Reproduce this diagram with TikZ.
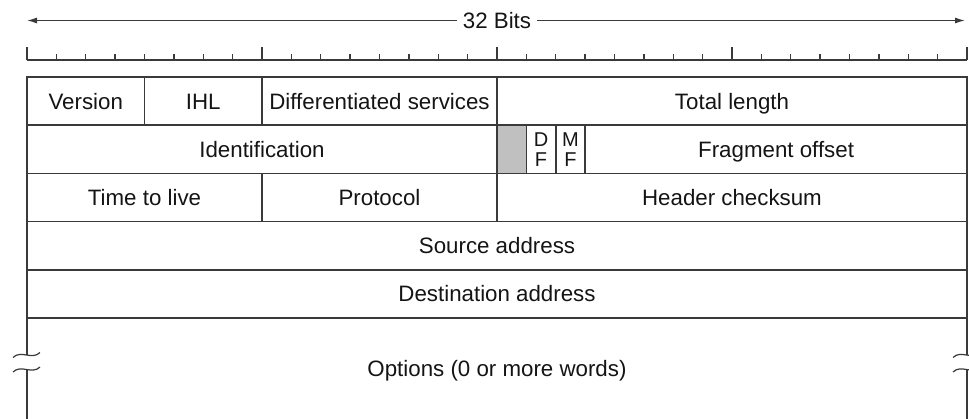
\documentclass[tikz,border=0pt]{standalone}
\usepackage{fontspec}
\setmainfont{Liberation Sans}
\usetikzlibrary{arrows.meta}
\definecolor{linec}{HTML}{3A3A3A}
\definecolor{textc}{HTML}{141414}
\definecolor{cellgray}{HTML}{C0C0C0}
\tikzset{
  cell/.style={draw=linec, line width=1.5pt, rectangle, inner sep=0pt, outer sep=0pt,
    text=textc, font=\fontsize{22.3}{26}\selectfont, text height=16pt, text depth=0pt},
  smallcell/.style={draw=linec, line width=1.5pt, rectangle, inner sep=0pt, outer sep=0pt,
    text=textc, font=\fontsize{20}{20}\selectfont, align=center},
  lbl/.style={text=textc, font=\fontsize{22.3}{26}\selectfont, text height=16pt, text depth=0pt, inner sep=0pt},
  rule/.style={draw=linec, line width=1.5pt},
  tick/.style={draw=linec, line width=1.3pt},
  brk/.style={draw=linec, line width=1.5pt},
  widearrow/.style={draw=linec, line width=1.2pt, -{Latex[length=10pt,width=6pt]}}
}
\begin{document}
\begin{tikzpicture}[x=1pt,y=-1pt]
\useasboundingbox (0,0) rectangle (969,418);
\clip (0,0) rectangle (969,418);

% title arrow
\node[lbl, inner xsep=6pt] (bits) at (497,20.5) {32 Bits};
\coordinate (arrL) at (27,20.5);
\coordinate (arrR) at (965,20.5);
\draw[widearrow] (bits.west) -- (arrL);
\draw[widearrow] (bits.east) -- (arrR);

% ruler
\draw[rule] (27,60) -- (967,60);
\foreach \b in {0,...,32}{
  \pgfmathsetmacro{\xx}{27+29.375*\b}
  \pgfmathtruncatemacro{\m}{mod(\b,8)}
  \ifnum\m=0
    \draw[tick] (\xx,60) -- (\xx,47);
  \else
    \draw[tick] (\xx,60) -- (\xx,54);
  \fi
}

% row 1
\node[cell, minimum width=117.5, minimum height=48.2] (ver) at (85.75,101.1) {Version};
\node[cell, minimum width=117.5, minimum height=48.2] (ihl) at (203.25,101.1) {IHL};
\node[cell, minimum width=235, minimum height=48.2] (ds) at (379.5,101.1) {Differentiated services};
\node[cell, minimum width=470, minimum height=48.2] (tl) at (732,101.1) {Total length};

% row 2
\node[cell, minimum width=470, minimum height=48.2] (id) at (262,149.3) {Identification};
\node[cell, fill=cellgray, minimum width=29.375, minimum height=48.2] (rsv) at (511.69,149.3) {};
\node[smallcell, minimum width=29.375, minimum height=48.2] (df) at (541.06,149.3) {D\\F};
\node[smallcell, minimum width=29.375, minimum height=48.2] (mf) at (570.44,149.3) {M\\F};
\node[cell, minimum width=381.875, minimum height=48.2] (fo) at (776.06,149.3) {Fragment offset};

% row 3
\node[cell, minimum width=235, minimum height=48.2] (ttl) at (144.5,197.5) {Time to live};
\node[cell, minimum width=235, minimum height=48.2] (proto) at (379.5,197.5) {Protocol};
\node[cell, minimum width=470, minimum height=48.2] (hc) at (732,197.5) {Header checksum};

% rows 4,5
\node[cell, minimum width=940, minimum height=48.2] (src) at (497,245.7) {Source address};
\node[cell, minimum width=940, minimum height=48.2] (dst) at (497,293.9) {Destination address};

% options (open at the bottom)
\node[lbl] (opt) at (497,368) {Options (0 or more words)};
\draw[brk] (27,318) -- (27,355);
\draw[brk] (27,370) -- (27,420);
\draw[brk] (967,318) -- (967,355);
\draw[brk] (967,370) -- (967,420);
\foreach \xc in {27,967}{
  \draw[brk, line width=1.2pt] (\xc-14,357.5) .. controls (\xc-6,349.5) and (\xc+5,360.5) .. (\xc+13,352.5);
  \draw[brk, line width=1.2pt] (\xc-14,372) .. controls (\xc-6,364) and (\xc+5,375) .. (\xc+13,367);
}
\end{tikzpicture}
\end{document}
